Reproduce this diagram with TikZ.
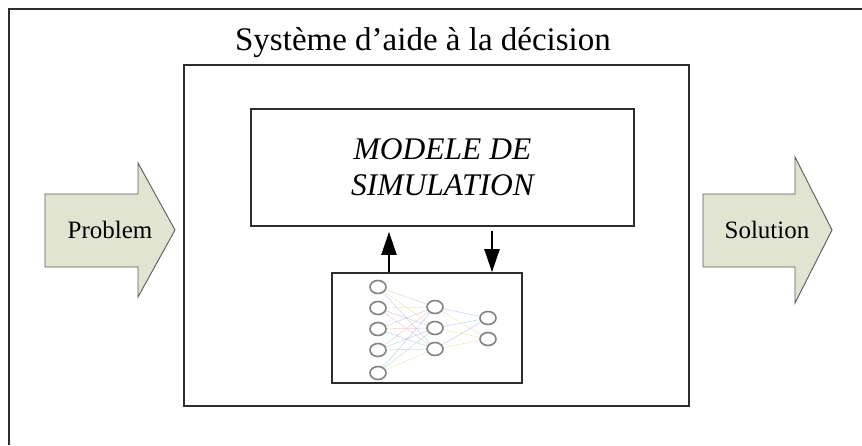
\documentclass[tikz,border=0pt]{standalone}
\usepackage{fontspec}
\setmainfont{Liberation Serif}
\usepackage{tikz}
\usetikzlibrary{arrows.meta, shapes.geometric}
\definecolor{boxline}{RGB}{45, 45, 45}
\definecolor{arrowfill}{RGB}{224, 228, 208}
\definecolor{arrowline}{RGB}{90, 90, 90}
\definecolor{neuron}{RGB}{130, 130, 130}
\definecolor{wpink}{RGB}{240, 190, 200}
\definecolor{wblue}{RGB}{170, 200, 230}
\definecolor{wgreen}{RGB}{180, 220, 190}
\definecolor{wyellow}{RGB}{240, 225, 170}
\definecolor{wlilac}{RGB}{200, 190, 230}

\begin{document}
\begin{tikzpicture}[x=1pt, y=-1pt,
    bloc/.style={draw=boxline, line width=1.6pt, inner sep=0pt},
    bigarrow/.style={draw=arrowline, line width=0.9pt, fill=arrowfill},
    flow/.style={line width=2pt, -{Triangle[length=23pt, width=15pt]}},
    unit/.style={draw=neuron, line width=1.6pt, fill=white, ellipse, inner sep=0pt,
        minimum width=16pt, minimum height=13pt},
    weight/.style={line width=0.5pt, opacity=0.8}]
\useasboundingbox (0,0) rectangle (862,445);
\clip (0,0) rectangle (862,445);

% outer frame (cut by the page)
\draw[draw=boxline, line width=1.4pt] (9,445) -- (9,9) -- (862,9);

% decision support system
\node[anchor=base, font=\fontsize{33}{38}\selectfont] (titre) at (423,50) {Système d’aide à la décision};
\node[bloc, minimum width=505pt, minimum height=341pt] (dss) at (436.5,235.5) {};
\node[bloc, minimum width=383pt, minimum height=117pt, align=center,
      font=\fontsize{31.5}{36}\selectfont\itshape] (sim) at (442.5,167.5) {MODELE DE\\SIMULATION};
\node[bloc, minimum width=190pt, minimum height=110pt] (nn) at (427,328) {};

% exchanges between the model and the network
\draw[flow, shorten >=5pt] ([xshift=-38pt]nn.north) -- ([xshift=-38pt]nn.north |- sim.south);
\draw[flow, shorten <=4pt] ([xshift=65pt]nn.north |- sim.south) -- ([xshift=65pt]nn.north);

% neural network
\foreach \y [count=\i] in {287,308,329,350,373} {
    \coordinate (a\i) at (378,\y);
}
\foreach \y [count=\i] in {307,328,349} {
    \coordinate (b\i) at (435,\y);
}
\foreach \y [count=\i] in {318,339} {
    \coordinate (c\i) at (488,\y);
}
\foreach \i in {1,...,5} {
    \foreach \j in {1,2,3} {
        \pgfmathtruncatemacro{\k}{mod(\i+\j,5)}
        \ifcase\k \def\wc{wpink}\or \def\wc{wblue}\or \def\wc{wgreen}\or \def\wc{wyellow}\else \def\wc{wlilac}\fi
        \draw[weight, \wc] (a\i) -- (b\j);
    }
}
\foreach \j in {1,2,3} {
    \draw[weight, wblue] (b\j) -- (c1);
    \draw[weight, wyellow] (b\j) -- (c2);
}
\foreach \i in {1,...,5} { \node[unit] (na\i) at (a\i) {}; }
\foreach \j in {1,2,3} { \node[unit] (nb\j) at (b\j) {}; }
\foreach \j in {1,2} { \node[unit] (nc\j) at (c\j) {}; }

% input and output arrows
\draw[bigarrow] (45,194) -- (138,194) -- (138,163) -- (175,230) -- (138,297)
    -- (138,267) -- (45,267) -- cycle;
\node[font=\fontsize{25}{30}\selectfont] (probleme) at (110,230) {Problem};
\draw[bigarrow] (703,194) -- (795,194) -- (795,157) -- (832,230) -- (795,303)
    -- (795,267) -- (703,267) -- cycle;
\node[font=\fontsize{25}{30}\selectfont] (solution) at (767,230) {Solution};
\end{tikzpicture}
\end{document}
